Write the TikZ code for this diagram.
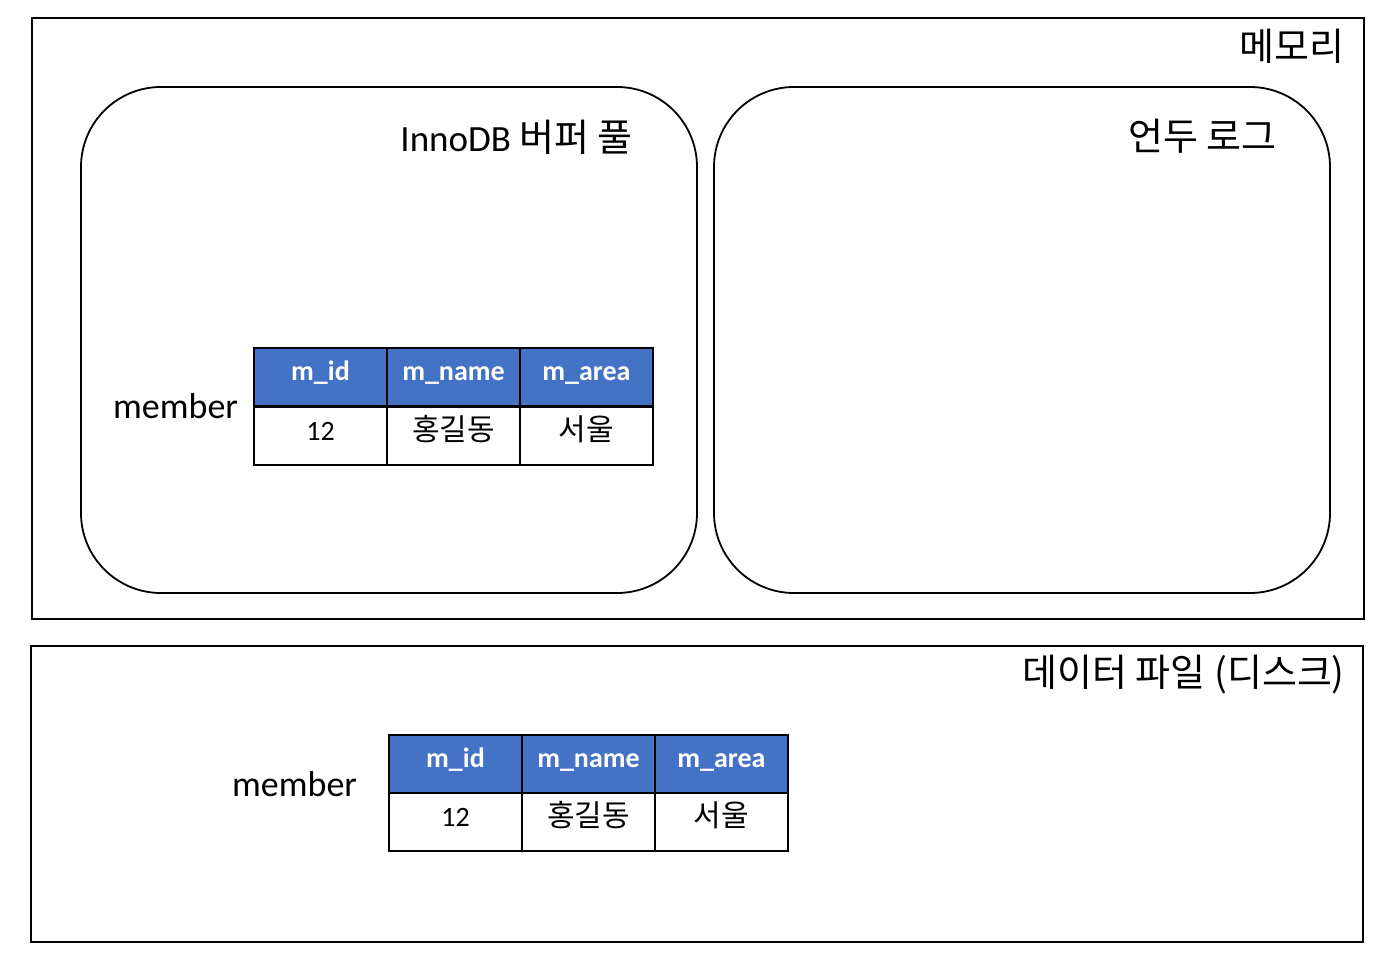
\documentclass[tikz,border=0pt]{standalone}
\usepackage{fontspec}
\setmainfont{Carlito}
\newfontfamily\kr{Noto Sans CJK KR}
\definecolor{hdrblue}{HTML}{4472C4}
\tikzset{
  frame/.style={draw=black, line width=2pt},
  pool/.style={draw=black, line width=1.8pt, rounded corners=80pt},
  hdr/.style={draw=black, line width=2pt, fill=hdrblue, minimum width=133pt, minimum height=58pt, inner sep=0pt, text height=14pt, text depth=8pt, text=white, font=\fontsize{28}{32}\selectfont\bfseries},
  cell/.style={draw=black, line width=2pt, fill=white, minimum width=133pt, minimum height=58pt, inner sep=0pt, text height=16pt, text depth=7pt, font=\fontsize{28}{32}\selectfont},
  krc/.style={font=\fontsize{30}{34}\selectfont\kr},
  title/.style={inner sep=0pt, font=\fontsize{38}{44}\selectfont\kr},
  lbl/.style={inner sep=0pt, font=\fontsize{36}{42}\selectfont}
}
\begin{document}
\begin{tikzpicture}[x=1pt,y=-1pt]
\useasboundingbox (0,0) rectangle (1392,971);
% memory frame
\draw[frame] (32,18) rectangle (1364,619);
\node[title, anchor=base east] (mem) at (1345,61) {메모리};
% buffer pool
\draw[pool] (81,87) rectangle (697,593);
\node[inner sep=0pt, anchor=base east] (bp) at (633,152) {\fontsize{37}{44}\selectfont InnoDB {\fontsize{38}{44}\selectfont\kr 버퍼 풀}};
% undo log
\draw[pool] (714,87) rectangle (1330,593);
\node[title, anchor=base east] (ul) at (1277,150) {언두 로그};
% table 1
\node[hdr] (a1) at (320.5,377) {m\_id};
\node[hdr] (b1) at (453.5,377) {m\_name};
\node[hdr] (c1) at (586.5,377) {m\_area};
\node[cell] (a2) at (320.5,435.5) {12};
\node[cell, krc] (b2) at (453.5,435.5) {홍길동};
\node[cell, krc] (c2) at (586.5,435.5) {서울};
\node[lbl, anchor=base west] (m1) at (113,418) {member};
% disk frame
\draw[frame] (31,646) rectangle (1363,942);
\node[title, anchor=base east] (df) at (1345,686) {데이터 파일 (디스크)};
% table 2
\node[hdr] (d1) at (455.5,764) {m\_id};
\node[hdr] (e1) at (588.5,764) {m\_name};
\node[hdr] (f1) at (721.5,764) {m\_area};
\node[cell] (d2) at (455.5,822) {12};
\node[cell, krc] (e2) at (588.5,822) {홍길동};
\node[cell, krc] (f2) at (721.5,822) {서울};
\node[lbl, anchor=base west] (m2) at (232,796) {member};
\end{tikzpicture}
\end{document}
